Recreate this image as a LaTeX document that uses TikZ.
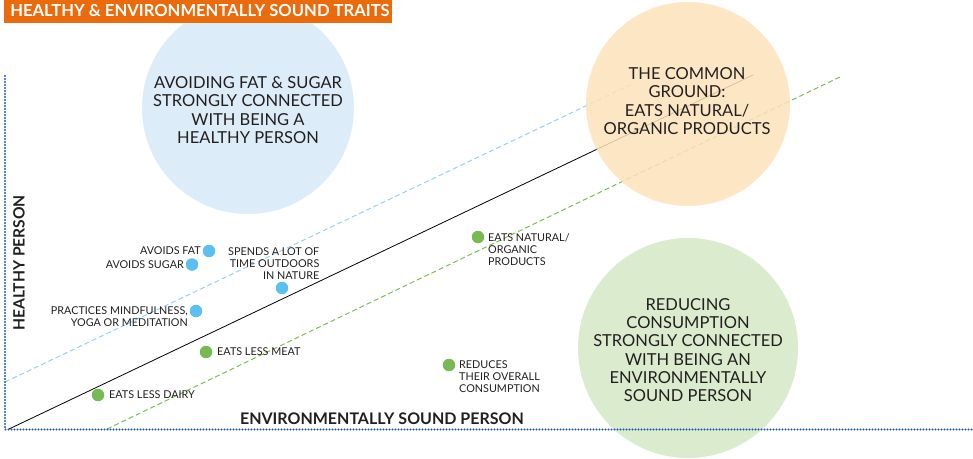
\documentclass[tikz,border=0pt]{standalone}
\usepackage{fontspec}
\setmainfont{Lato}
\definecolor{titleorange}{HTML}{EA6A0C}
\definecolor{bluebub}{HTML}{D6E9F7}
\definecolor{orangebub}{HTML}{FCE2BA}
\definecolor{greenbub}{HTML}{D4E8C6}
\definecolor{bluedot}{HTML}{5BC0F0}
\definecolor{greendot}{HTML}{79B955}
\definecolor{bluedash}{HTML}{92D2F2}
\definecolor{greendash}{HTML}{7BBE4E}
\definecolor{axisblue}{HTML}{1A5DB0}
\definecolor{ink}{HTML}{231F20}
\begin{document}
\begin{tikzpicture}[x=1pt,y=-1pt,
  bubble/.style={circle,inner sep=0pt,fill opacity=0.85,draw=none},
  bubtext/.style={align=center,text=ink,font=\fontsize{16.5}{18.3}\selectfont},
  dotb/.style={circle,fill=bluedot,minimum size=12.5pt,inner sep=0pt},
  dotg/.style={circle,fill=greendot,minimum size=12.5pt,inner sep=0pt},
  lab/.style={text=ink,font=\fontsize{10.8}{12}\selectfont,inner sep=0pt},
  axislab/.style={text=ink,font=\bfseries\fontsize{16}{18}\selectfont,inner sep=0pt},
  axisline/.style={axisblue,line width=2.1pt,line cap=round,dash pattern=on 0pt off 3pt},
  ]
\useasboundingbox (0,0) rectangle (973,458);
% diagonal reference lines
\coordinate (bs) at (5,382);
\coordinate (be) at (632,84);
\coordinate (ks) at (9,429);
\coordinate (ke) at (753,75);
\coordinate (gs) at (107,429);
\coordinate (ge) at (842,76);
\draw[bluedash,line width=1pt,dash pattern=on 5pt off 3pt] (bs) -- (be);
\draw[black,line width=0.8pt] (ks) -- (ke);
\draw[greendash,line width=1pt,dash pattern=on 5pt off 3pt] (gs) -- (ge);
% bubbles
\node[bubble,fill=bluebub,minimum size=212pt] (cb) at (248,108) {};
\node[bubble,fill=orangebub,minimum size=204pt] (co) at (688,104) {};
\node[bubble,fill=greenbub,minimum size=220pt] (cg) at (688,348) {};
\node[bubtext] (tb) at (248,110) {AVOIDING FAT \& SUGAR\\STRONGLY CONNECTED\\WITH BEING A\\HEALTHY PERSON};
\node[bubtext] (to) at (687,101) {THE COMMON\\GROUND:\\EATS NATURAL/\\ORGANIC PRODUCTS};
\node[bubtext] (tg) at (688,350) {REDUCING\\CONSUMPTION\\STRONGLY CONNECTED\\WITH BEING AN\\ENVIRONMENTALLY\\SOUND PERSON};
% title
\node[fill=titleorange,minimum width=388pt,minimum height=23pt,inner sep=0pt,anchor=north west] (title) at (4,0) {};
\node[text=white,font=\bfseries\fontsize{16.6}{18}\selectfont,inner sep=0pt] (titletext) at (200,10) {HEALTHY \& ENVIRONMENTALLY SOUND TRAITS};
% axes
\coordinate (yt) at (5,76);
\coordinate (o) at (5,429.5);
\coordinate (xr) at (973,429.5);
\draw[axisline] (yt) -- (o) -- (xr);
\node[axislab,rotate=90,font=\bfseries\fontsize{15.6}{18}\selectfont] (ylab) at (19,263) {HEALTHY PERSON};
\node[axislab,anchor=east] (xlab) at (524,419) {ENVIRONMENTALLY SOUND PERSON};
% blue points
\node[dotb] (p1) at (209,251) {};
\node[lab,anchor=east] (l1) at (201,251) {AVOIDS FAT};
\node[dotb] (p2) at (192,264.5) {};
\node[lab,anchor=east] (l2) at (184,264.5) {AVOIDS SUGAR};
\node[dotb] (p3) at (196,311) {};
\node[lab,anchor=east,align=right] (l3) at (188,316.5) {PRACTICES MINDFULNESS,\\YOGA OR MEDITATION};
\node[dotb] (p4) at (282,288) {};
\node[lab,anchor=east,align=right] (l4) at (319.5,263.5) {SPENDS A LOT OF\\TIME OUTDOORS\\IN NATURE};
% green points
\node[dotg] (p5) at (478,237) {};
\node[lab,anchor=west,align=left] (l5) at (488,249.5) {EATS NATURAL/\\ORGANIC\\PRODUCTS};
\node[dotg] (p6) at (206,352) {};
\node[lab,anchor=west] (l6) at (217,352) {EATS LESS MEAT};
\node[dotg] (p7) at (98,395) {};
\node[lab,anchor=west] (l7) at (109,395) {EATS LESS DAIRY};
\node[dotg] (p8) at (449,365) {};
\node[lab,anchor=west,align=left] (l8) at (459,377) {REDUCES\\THEIR OVERALL\\CONSUMPTION};
\end{tikzpicture}
\end{document}
